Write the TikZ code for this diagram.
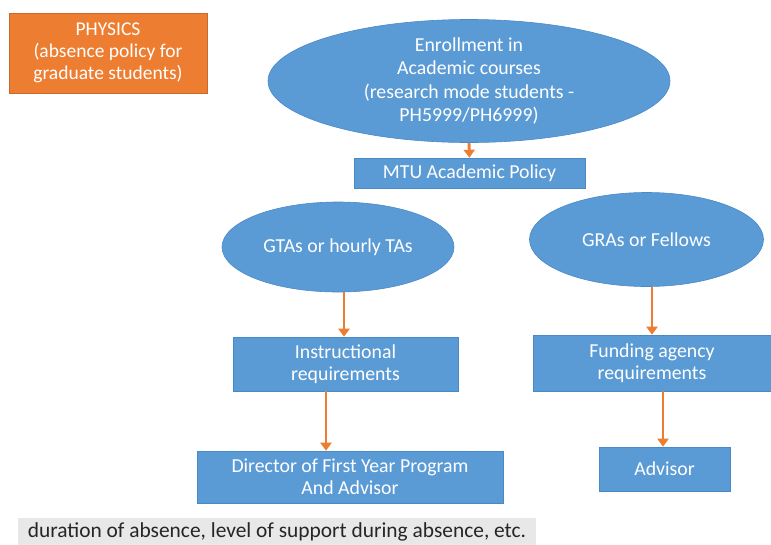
\documentclass[tikz,border=0pt]{standalone}
\usepackage{fontspec}
\setmainfont{Carlito}
\usetikzlibrary{shapes.geometric,arrows.meta,calc}
\definecolor{blu}{HTML}{5B9BD5}
\definecolor{bluedge}{HTML}{4A89C8}
\definecolor{org}{HTML}{ED7D31}
\definecolor{gry}{HTML}{E8E8E8}
\definecolor{txt}{HTML}{262626}
\begin{document}
\begin{tikzpicture}[x=1pt,y=-1pt,
  bluebox/.style={rectangle,fill=blu,draw=bluedge,line width=0.6pt,inner sep=0pt,align=center,text=white,font=\fontsize{19.8}{22.5}\selectfont},
  blueell/.style={ellipse,fill=blu,draw=bluedge,line width=0.6pt,inner sep=0pt,align=center,text=white,font=\fontsize{19.8}{23.5}\selectfont},
  arr/.style={draw=org,line width=2.9pt,-{Triangle[width=11pt,length=8pt]}}]
\useasboundingbox (0,0) rectangle (771,544);
\node[rectangle,fill=org,draw=org!85!black,line width=0.5pt,inner sep=0pt,align=center,text=white,
  font=\fontsize{19.5}{22}\selectfont,minimum width=198pt,minimum height=80pt] (phys) at (108,53)
  {PHYSICS\\(absence policy for\\graduate students)};
\node[blueell,minimum width=402pt,minimum height=112pt] (enr) at (469,81)
  {Enrollment in\\Academic courses\\(research mode students -\\PH5999/PH6999)};
\node[bluebox,minimum width=231pt,minimum height=30pt] (mtu) at (469.5,173) {MTU Academic Policy};
\node[blueell,minimum width=232pt,minimum height=90pt] (gta) at (338,247) {GTAs or hourly TAs};
\node[blueell,minimum width=234pt,minimum height=94pt] (gra) at (646.5,239.5) {GRAs or Fellows};
\node[bluebox,minimum width=225pt,minimum height=54pt] (ins) at (345.5,364) {Instructional\\requirements};
\node[bluebox,minimum width=238pt,minimum height=56pt] (fund) at (652,363) {Funding agency\\requirements};
\node[bluebox,minimum width=306pt,minimum height=52pt] (dir) at (350,477) {Director of First Year Program\\And Advisor};
\node[bluebox,minimum width=131pt,minimum height=44pt] (adv) at (664.5,469) {Advisor};
\node[rectangle,fill=gry,inner sep=0pt,minimum width=518pt,minimum height=27pt,text=txt,
  font=\fontsize{21.4}{24}\selectfont] (note) at (277,531.5)
  {duration of absence, level of support during absence, etc.};
\draw[arr] (enr.south) -- (mtu.north);
\draw[arr] ([xshift=-1.5pt]ins.north |- gta.south) -- ([xshift=-1.5pt]ins.north);
\draw[arr] ([xshift=-19.5pt]ins.south) -- ([xshift=-19.5pt]ins.south |- dir.north);
\draw[arr] (fund.north |- gra.south) -- (fund.north);
\draw[arr] ([xshift=-1.5pt]adv.north |- fund.south) -- ([xshift=-1.5pt]adv.north);
\end{tikzpicture}
\end{document}
